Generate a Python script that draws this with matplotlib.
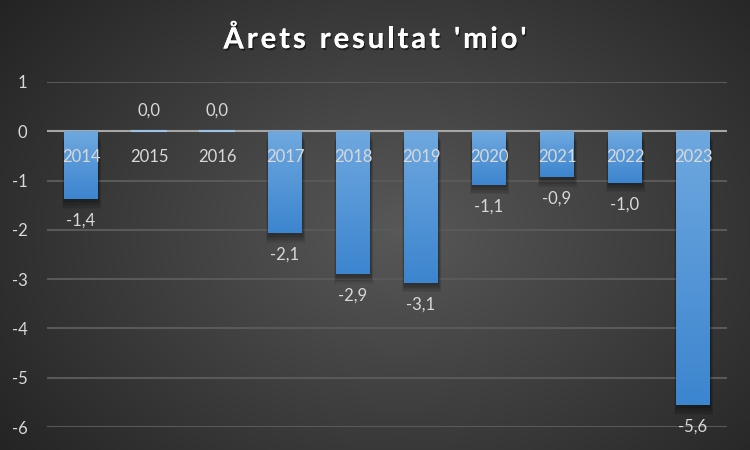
import numpy as np
import matplotlib
matplotlib.use("Agg")
import matplotlib.pyplot as plt
import matplotlib.patheffects as pe

years = ["2014", "2015", "2016", "2017", "2018", "2019", "2020", "2021", "2022", "2023"]
values = [-1.38, 0.0, 0.0, -2.06, -2.89, -3.07, -1.08, -0.93, -1.04, -5.56]
yticks = [1, 0, -1, -2, -3, -4, -5, -6]
title = "Årets resultat 'mio'"

plt.rcParams['font.family'] = ['Lato', 'DejaVu Sans']

fig = plt.figure(figsize=(7.5, 4.5), dpi=100)

# radial gradient background
bg = fig.add_axes([0, 0, 1, 1], zorder=0)
yy, xx = np.mgrid[0:450, 0:750]
r = np.sqrt(((xx - 400) / 520.0) ** 2 + ((yy - 230) / 380.0) ** 2)
r = np.clip(r, 0, 1)
c0 = np.array([0x58, 0x58, 0x58]) / 255.0
c1 = np.array([0x22, 0x22, 0x22]) / 255.0
img = c0[None, None, :] * (1 - r[..., None]) + c1[None, None, :] * r[..., None]
bg.imshow(img, aspect='auto', extent=[0, 1, 0, 1], origin='upper')
bg.set_xlim(0, 1)
bg.set_ylim(0, 1)
bg.axis('off')

ax = fig.add_axes([47 / 750, 1 - 427 / 450, 680 / 750, (427 - 82) / 450], zorder=1)
ax.patch.set_alpha(0)
x = np.arange(len(years))
ax.set_xlim(-0.5, len(years) - 0.5)
ax.set_ylim(-6, 1)

for yt in yticks:
    if yt == 0:
        continue
    ax.axhline(yt, color='#595959', lw=1.5, zorder=1)

# gradient for bars
grad = np.linspace(0, 1, 256)[:, None]
top = np.array([0x6f, 0xa8, 0xdf]) / 255.0
bot = np.array([0x3c, 0x85, 0xcf]) / 255.0
gimg = top[None, None, :] * (1 - grad[..., None]) + bot[None, None, :] * grad[..., None]

w = 0.5
for xi, v in zip(x, values):
    if v == 0:
        ax.plot([xi - w / 2, xi + w / 2], [0, 0], color='#9dc3e6', lw=1.5, zorder=4)
        continue
    # soft shadow
    for k in range(6):
        d = 0.012 * (k + 1)
        sh = plt.Rectangle((xi - w / 2 + 0.01 - d * 0.5, v - 0.02 - d * 2.5), w + d, -v,
                           color='black', alpha=0.07, zorder=2, lw=0)
        ax.add_patch(sh)
    bars = ax.bar(xi, v, width=w, color='#5b9bd5', zorder=3, lw=0)
    rect = bars[0]
    im = ax.imshow(gimg, extent=[xi - w / 2, xi + w / 2, v, 0], aspect='auto', zorder=3.5, origin='upper')
    im.set_clip_path(rect)

ax.axhline(0, color='#a6a6a6', lw=1.5, zorder=3.2)

txtc = '#d9d9d9'
for xi, v, yr in zip(x, values, years):
    lab = f"{v:.1f}".replace('.', ',')
    if lab == "-0,0":
        lab = "0,0"
    if v < 0:
        ax.text(xi, v - 0.44, lab, ha='center', va='center', color=txtc, fontsize=12, zorder=5)
    else:
        ax.text(xi, 0.42, lab, ha='center', va='center', color=txtc, fontsize=12, zorder=5)
    ax.text(xi, -0.52, yr, ha='center', va='center', color=txtc, fontsize=12, zorder=5)

ax.set_yticks(yticks)
ax.set_yticklabels([str(t) for t in yticks], color=txtc, fontsize=12)
ax.tick_params(axis='y', length=0, pad=14)
ax.set_xticks([])
for s in ax.spines.values():
    s.set_visible(False)

# title with letter spacing
fig.canvas.draw()
renderer = fig.canvas.get_renderer()
fs = 21
target_w = 303.0
widths = []
for ch in title:
    t = fig.text(0, 0, ch if ch != ' ' else 'a', fontsize=fs, fontweight='bold')
    bb = t.get_window_extent(renderer)
    widths.append(bb.width * (0.55 if ch == ' ' else 1.0))
    t.remove()
total = sum(widths)
gap = (target_w - total) / (len(title) - 1)
x0 = 375 - target_w / 2
ty = 1 - 40 / 450
for ch, wd in zip(title, widths):
    if ch != ' ':
        fig.text(x0 / 750, ty, ch, ha='left', va='center', color='white', fontsize=fs,
                 fontweight='bold',
                 path_effects=[pe.withSimplePatchShadow(offset=(1, -1.5), shadow_rgbFace='black', alpha=0.5),
                               pe.Normal()])
    x0 += wd + gap

fig.savefig("out.png", dpi=100)
